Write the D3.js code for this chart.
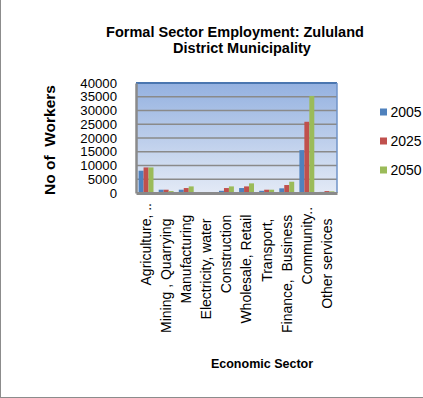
<!DOCTYPE html>
<html>
<head>
<meta charset="utf-8">
<script src="https://cdn.jsdelivr.net/npm/d3@7"></script>
<style>
  html, body { margin: 0; padding: 0; background: #fff; }
  svg { display: block; font-family: Arial, "Liberation Sans", sans-serif; }
  .xlab { white-space: pre; }
</style>
</head>
<body>
<svg id="chart" width="423" height="398"></svg>
<script>
// Formal sector employment by economic sector, Zululand District Municipality
const categories = [
  "Agriculture, ..",
  "Mining , Quarrying    ",
  "Manufacturing   ",
  "Electricity, water    ",
  "Construction   ",
  "Wholesale, Retail   ",
  "Transport,    ",
  "Finance,  Business   ",
  "Community.. ",
  "Other services    "
];
const seriesNames = ["2005", "2025", "2050"];
const values2005 = [8100, 1200, 1200, 200, 800, 1800, 800, 1700, 15600, 400];
const values2025 = [9300, 1200, 1800, 300, 1800, 2400, 1200, 2900, 25900, 700];
const values2050 = [9300, 700, 2400, 300, 2400, 3500, 1200, 4100, 35300, 600];
const seriesColors = ["#4F81BD", "#C0504D", "#9BBB59"];
const yTicks = [0, 5000, 10000, 15000, 20000, 25000, 30000, 35000, 40000];

const titleLines = ["Formal Sector Employment: Zululand", "District Municipality"];
const yTitle = "No of  Workers";
const xTitle = "Economic Sector";

const seriesValues = [values2005, values2025, values2050];

const svg = d3.select("#chart");
const plot = { left: 136, right: 337, top: 83, bottom: 193 };

// chart area frame
svg.append("line").attr("x1", 0.5).attr("x2", 0.5).attr("y1", 0).attr("y2", 398)
  .attr("stroke", "#8c8c8c").attr("stroke-width", 1);
svg.append("line").attr("x1", 0).attr("x2", 423).attr("y1", 397.5).attr("y2", 397.5)
  .attr("stroke", "#8c8c8c").attr("stroke-width", 1);

const x = d3.scaleBand().domain(categories).range([plot.left, plot.right]);
const xInner = d3.scaleBand().domain(seriesNames).range([2.6, x.bandwidth() - 2.6]);
const y = d3.scaleLinear().domain([0, 40000]).range([plot.bottom, plot.top]);

// plot background gradient
const defs = svg.append("defs");
const grad = defs.append("linearGradient").attr("id", "plotBg")
  .attr("x1", 0).attr("y1", 0).attr("x2", 0).attr("y2", 1);
grad.append("stop").attr("offset", "0%").attr("stop-color", "#94b1e0");
grad.append("stop").attr("offset", "100%").attr("stop-color", "#e3eaf6");

svg.append("rect")
  .attr("x", plot.left).attr("y", plot.top)
  .attr("width", plot.right - plot.left).attr("height", plot.bottom - plot.top)
  .attr("fill", "url(#plotBg)");

// horizontal gridlines
svg.append("g").selectAll("line")
  .data(yTicks.filter(t => t > 0))
  .join("line")
  .attr("x1", plot.left).attr("x2", plot.right)
  .attr("y1", d => y(d)).attr("y2", d => y(d))
  .attr("stroke", "#8a8a8a").attr("stroke-width", 1.6);

// plot border (top/right)
svg.append("line").attr("x1", plot.left).attr("x2", plot.right)
  .attr("y1", plot.top).attr("y2", plot.top)
  .attr("stroke", "#4a76b0").attr("stroke-width", 2);
svg.append("line").attr("x1", plot.right).attr("x2", plot.right)
  .attr("y1", plot.top).attr("y2", plot.bottom)
  .attr("stroke", "#6f93c8").attr("stroke-width", 1.5);

// bars
const groups = svg.append("g").selectAll("g")
  .data(categories.map((c, i) => ({ c, i })))
  .join("g")
  .attr("transform", d => `translate(${x(d.c)},0)`);

groups.selectAll("rect")
  .data(d => seriesNames.map((s, k) => ({ s, k, v: seriesValues[k][d.i] })))
  .join("rect")
  .attr("x", d => xInner(d.s))
  .attr("width", xInner.bandwidth())
  .attr("y", d => y(d.v))
  .attr("height", d => plot.bottom - y(d.v))
  .attr("fill", d => seriesColors[d.k]);

// axes
const yAxis = d3.axisLeft(y).tickValues(yTicks).tickSize(0).tickPadding(19).tickFormat(d3.format("d"));
const yG = svg.append("g").attr("transform", `translate(${plot.left},0)`).call(yAxis);
yG.select(".domain").attr("stroke", "#8a8a8a").attr("stroke-width", 2.5);
yG.selectAll("text").attr("font-size", 13.2).attr("fill", "#000")
  .attr("font-family", "Arial, 'Liberation Sans', sans-serif");

const xAxis = d3.axisBottom(x).tickSize(0).tickFormat(d => d);
const xG = svg.append("g").attr("transform", `translate(0,${plot.bottom})`).call(xAxis);
xG.select(".domain").attr("stroke", "#8a8a8a").attr("stroke-width", 3);
xG.selectAll("text")
  .attr("class", "xlab")
  .attr("font-size", 14).attr("fill", "#000")
  .attr("font-family", "Arial, 'Liberation Sans', sans-serif")
  .attr("text-anchor", "end")
  .attr("transform", "rotate(-90)")
  .attr("x", -10).attr("y", 0).attr("dy", "0.35em");

// titles
svg.append("text").attr("x", 238).attr("y", 36.5)
  .attr("text-anchor", "middle").attr("font-weight", "bold").attr("font-size", 14.5)
  .selectAll("tspan").data(titleLines).join("tspan")
  .attr("x", (d, i) => i === 0 ? 235 : 242).attr("dy", (d, i) => i === 0 ? 0 : 16.5).text(d => d);

svg.append("text")
  .attr("transform", `translate(55,140) rotate(-90)`)
  .attr("text-anchor", "middle").attr("font-weight", "bold").attr("font-size", 15.5)
  .style("white-space", "pre")
  .text(yTitle);

svg.append("text").attr("x", 262).attr("y", 368)
  .attr("text-anchor", "middle").attr("font-weight", "bold").attr("font-size", 12.5)
  .text(xTitle);

// legend
const legend = svg.append("g").selectAll("g")
  .data(seriesNames)
  .join("g")
  .attr("transform", (d, i) => `translate(380,${112 + i * 29})`);
legend.append("rect").attr("x", 0).attr("y", -3.5).attr("width", 7).attr("height", 7)
  .attr("fill", (d, i) => seriesColors[i]);
legend.append("text").attr("x", 10.5).attr("y", 0).attr("dy", "0.36em")
  .attr("font-size", 14).text(d => d);
</script>
</body>
</html>
